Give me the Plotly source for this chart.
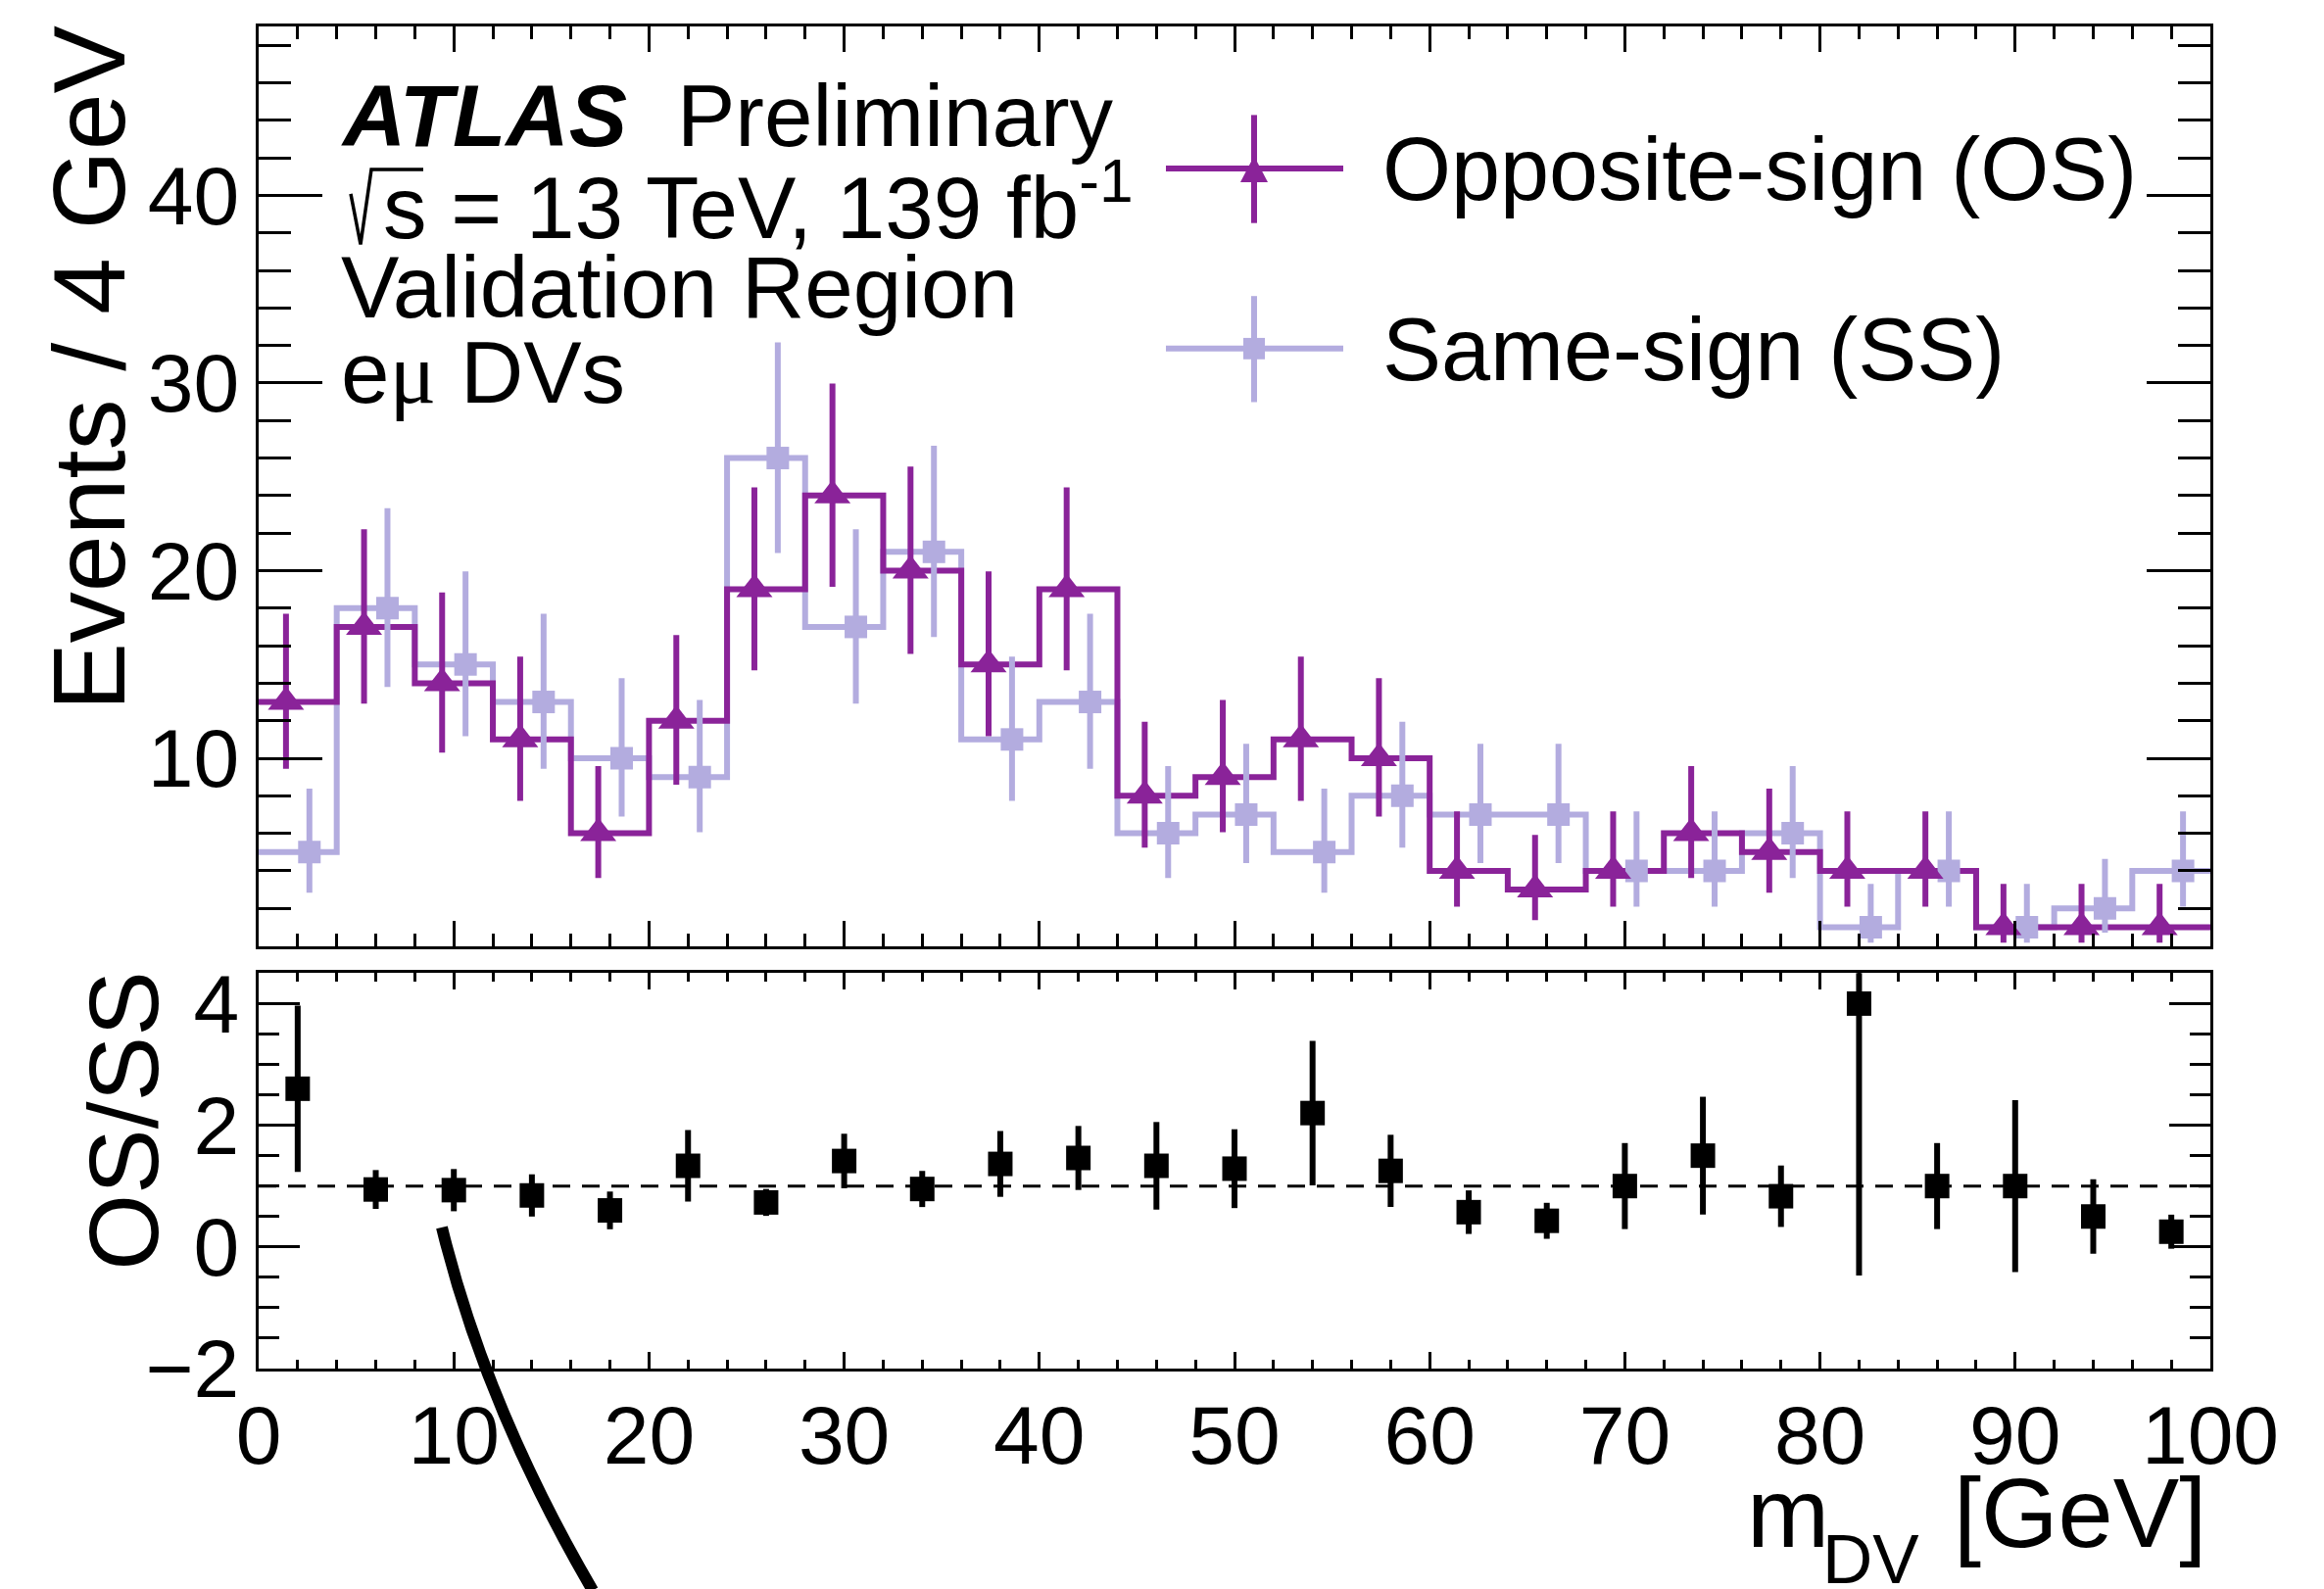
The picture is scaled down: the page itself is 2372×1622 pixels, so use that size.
import plotly.graph_objects as go

# ---------------- data ----------------
bin_edges = [0, 4, 8, 12, 16, 20, 24, 28, 32, 36, 40, 44, 48, 52, 56, 60, 64, 68,
             72, 76, 80, 84, 88, 92, 96, 100]

os_counts = [13, 17, 14, 11, 6, 12, 19, 24, 20, 15, 19, 8, 9, 11, 10, 4, 3, 4, 6, 5, 4, 4, 1, 1, 1]
os_err_up = [4.698, 5.207, 4.831, 4.416, 3.584, 4.559, 5.438, 5.966, 5.549, 4.961, 5.438, 3.945,
             4.110, 4.416, 4.266, 3.163, 2.918, 3.163, 3.584, 3.382, 3.163, 3.163, 2.299, 2.299, 2.299]
os_err_dn = [3.559, 4.083, 3.696, 3.266, 2.380, 3.415, 4.320, 4.864, 4.434, 3.830, 4.320, 2.768,
             2.943, 3.266, 3.109, 1.914, 1.633, 1.914, 2.380, 2.160, 1.914, 1.914, 0.827, 0.827, 0.827]

ss_counts = [5, 18, 15, 13, 10, 9, 26, 17, 21, 11, 13, 6, 7, 5, 8, 7, 7, 4, 4, 6, 1, 4, 1, 2, 4]
ss_err_up = [3.382, 5.324, 4.961, 4.698, 4.266, 4.110, 6.164, 5.207, 5.657, 4.416, 4.698, 3.584,
             3.770, 3.382, 3.945, 3.770, 3.770, 3.163, 3.163, 3.584, 2.299, 3.163, 2.299, 2.638, 3.163]
ss_err_dn = [2.160, 4.204, 3.830, 3.559, 3.109, 2.943, 5.066, 4.083, 4.545, 3.266, 3.559, 2.380,
             2.581, 2.160, 2.768, 2.581, 2.581, 1.914, 1.914, 2.380, 0.827, 1.914, 0.827, 1.292, 1.914]

ratio_vals = [2.600, 0.944, 0.933, 0.846, 0.600, 1.333, 0.731, 1.412, 0.952, 1.364, 1.462, 1.333,
              1.286, 2.200, 1.250, 0.571, 0.429, 1.000, 1.500, 0.833, 4.000, 1.000, 1.000, 0.500, 0.250]
ratio_err = [1.368, 0.319, 0.347, 0.347, 0.310, 0.588, 0.221, 0.448, 0.297, 0.541, 0.526, 0.720,
             0.648, 1.187, 0.593, 0.358, 0.296, 0.707, 0.968, 0.505, 4.472, 0.707, 1.414, 0.612, 0.280]

top_tick_vals = [10, 20, 30, 40]
ratio_tick_vals = [-2, 0, 2, 4]

# ---------------- styling ----------------
OS_COL = "#8A2399"
SS_COL = "#B3ACDF"
FONT = "Liberation Sans"

FIG_W, FIG_H = 2372, 1622
ML, MR, MT, MB = 264, 116, 18, 225
PW = FIG_W - ML - MR
PH = FIG_H - MT - MB


def px(xp):
    return (xp - ML) / PW


def py(yp):
    return (FIG_H - MB - yp) / PH


centers = [(bin_edges[i] + bin_edges[i + 1]) / 2 for i in range(len(bin_edges) - 1)]
os_x = [c - 0.6 for c in centers]
ss_x = [c + 0.6 for c in centers]

fig = go.Figure()

# step histograms
fig.add_trace(go.Scatter(x=bin_edges, y=ss_counts + [ss_counts[-1]], mode="lines",
                         line=dict(shape="hv", color=SS_COL, width=6),
                         xaxis="x", yaxis="y", showlegend=False, hoverinfo="skip"))
fig.add_trace(go.Scatter(x=bin_edges, y=os_counts + [os_counts[-1]], mode="lines",
                         line=dict(shape="hv", color=OS_COL, width=6),
                         xaxis="x", yaxis="y", showlegend=False, hoverinfo="skip"))
# points with asymmetric errors
fig.add_trace(go.Scatter(x=ss_x, y=ss_counts, mode="markers",
                         marker=dict(symbol="square", size=23, color=SS_COL),
                         error_y=dict(type="data", symmetric=False, array=ss_err_up,
                                      arrayminus=ss_err_dn, thickness=6, width=0, color=SS_COL),
                         xaxis="x", yaxis="y", name="Same-sign (SS)", showlegend=False))
fig.add_trace(go.Scatter(x=os_x, y=os_counts, mode="markers",
                         marker=dict(symbol="triangle-up", size=32, color=OS_COL),
                         error_y=dict(type="data", symmetric=False, array=os_err_up,
                                      arrayminus=os_err_dn, thickness=6, width=0, color=OS_COL),
                         xaxis="x", yaxis="y", name="Opposite-sign (OS)", showlegend=False))
# ratio
fig.add_trace(go.Scatter(x=centers, y=ratio_vals, mode="markers",
                         marker=dict(symbol="square", size=25, color="black"),
                         error_y=dict(type="data", array=ratio_err, thickness=6, width=0, color="black"),
                         xaxis="x2", yaxis="y2", showlegend=False))

axis_common = dict(showline=True, linewidth=3, linecolor="black", mirror="ticks",
                   ticks="inside", tickwidth=3, tickcolor="black", showgrid=False,
                   zeroline=False, tickfont=dict(family=FONT, size=84, color="black"))

top_dom = [py(962.7), 1.0]
rat_dom = [0.0, py(990.7)]

fig.update_layout(
    width=FIG_W, height=FIG_H, autosize=False,
    margin=dict(l=ML, r=MR, t=MT, b=MB, pad=0),
    paper_bgcolor="white", plot_bgcolor="white",
    font=dict(family=FONT, color="black"),
    showlegend=False,
    xaxis=dict(axis_common, domain=[0, 1], anchor="y", range=[0, 100],
               tickmode="linear", tick0=0, dtick=10, ticklen=26, showticklabels=False,
               minor=dict(ticks="inside", ticklen=13, tickwidth=3, tickcolor="black",
                          tickmode="linear", tick0=0, dtick=2)),
    yaxis=dict(axis_common, domain=top_dom, anchor="x", range=[0, 49],
               tickmode="array", tickvals=top_tick_vals,
               ticktext=[str(v) for v in top_tick_vals], ticklen=65,
               minor=dict(ticks="inside", ticklen=33, tickwidth=3, tickcolor="black",
                          tickmode="linear", tick0=0, dtick=2)),
    xaxis2=dict(axis_common, domain=[0, 1], anchor="y2", range=[0, 100],
                tickmode="linear", tick0=0, dtick=10, ticklen=17, ticklabelstandoff=-7,
                minor=dict(ticks="inside", ticklen=9, tickwidth=3, tickcolor="black",
                           tickmode="linear", tick0=0, dtick=2)),
    yaxis2=dict(axis_common, domain=rat_dom, anchor="x2", range=[-2, 4.5],
                tickmode="array", tickvals=ratio_tick_vals,
                ticktext=["\u22122", "0", "2", "4"], ticklen=42,
                minor=dict(ticks="inside", ticklen=21, tickwidth=3, tickcolor="black",
                           tickmode="linear", tick0=-2, dtick=0.5)),
)

# dashed unity line in ratio panel
shapes = [dict(type="line", xref="x2", yref="y2", x0=0, x1=100, y0=1, y1=1,
               line=dict(color="black", width=3, dash="18px,12px"), layer="between")]


# legend (drawn by hand, ROOT style)
def hline(x0, x1, y, col, w=6):
    return dict(type="line", xref="paper", yref="paper", x0=px(x0), x1=px(x1), y0=py(y), y1=py(y),
                line=dict(color=col, width=w), layer="above")


def vline(x, y0, y1, col, w=6):
    return dict(type="line", xref="paper", yref="paper", x0=px(x), x1=px(x), y0=py(y0), y1=py(y1),
                line=dict(color=col, width=w), layer="above")


def ppath(points, close=False):
    s = "M " + " L ".join("%f,%f" % (px(a), py(b)) for a, b in points)
    return s + (" Z" if close else "")


shapes += [hline(1190, 1371, 164, OS_COL), vline(1280, 109, 220, OS_COL),
           dict(type="path", xref="paper", yref="paper",
                path=ppath([(1266, 178), (1294, 178), (1280, 151)], close=True),
                fillcolor=OS_COL, line=dict(width=0), layer="above"),
           hline(1190, 1371, 349, SS_COL), vline(1280, 295, 404, SS_COL),
           dict(type="rect", xref="paper", yref="paper", x0=px(1269), x1=px(1291), y0=py(338), y1=py(360),
                fillcolor=SS_COL, line=dict(width=0), layer="above")]

# square-root sign (ROOT #sqrt{s} style)
shapes.append(dict(type="path", xref="paper", yref="paper",
                   path=ppath([(358, 190), (368, 242), (379, 165), (432, 165)]),
                   line=dict(color="black", width=3.5), layer="above"))

# black arc drawn over the picture
shapes.append(dict(type="path", xref="paper", yref="paper",
                   path="M %f,%f Q %f,%f %f,%f" % (px(451), py(1252), px(496), py(1437), px(605), py(1625)),
                   line=dict(color="black", width=12), layer="above"))

fig.update_layout(shapes=shapes)


def ann(text, x, y_top, size, xanchor="left", **kw):
    return dict(text=text, xref="paper", yref="paper", x=x, y=y_top, xanchor=xanchor, yanchor="top",
                showarrow=False, font=dict(family=FONT, size=size, color="black"), **kw)


TS = 89
K = 1.035      # baseline offset from the annotation box top, in units of font size
KSUP = 1.134   # same, for a line that carries a superscript
LS = 90
XS = 101
SUBS = 71
MU = "<span style=\"font-family:'Liberation Serif'\">\u03bc</span>"
annots = [
    ann("<b><i>ATLAS</i></b>", px(346), py(149.6 - K * TS), TS),
    ann("Preliminary", px(689), py(149.6 - K * TS), TS),
    ann("s = 13 TeV, 139 fb<sup>-1</sup>", px(389), py(241 - KSUP * TS), TS),
    ann("Validation Region", px(346), py(326 - K * TS), TS),
    ann("e" + MU + " DVs", px(346), py(413 - K * TS), TS),
    ann("Opposite-sign (OS)", px(1409), py(206 - K * LS), LS),
    ann("Same-sign (SS)", px(1409), py(390.6 - K * LS), LS),
    ann("m", px(1781), py(1590.8 - K * XS), XS),
    ann("DV", px(1858), py(1624 - K * SUBS), SUBS),
    ann("[GeV]", px(2254), py(1590.8 - K * XS), XS, xanchor="right"),
    ann("Events / 4 GeV", px(91), py(16), 104, xanchor="center", textangle=-90),
    ann("OS/SS", px(126), py(986), 100, xanchor="center", textangle=-90),
]
fig.update_layout(annotations=annots)

fig.write_html("out.html", config={"displayModeBar": False})
